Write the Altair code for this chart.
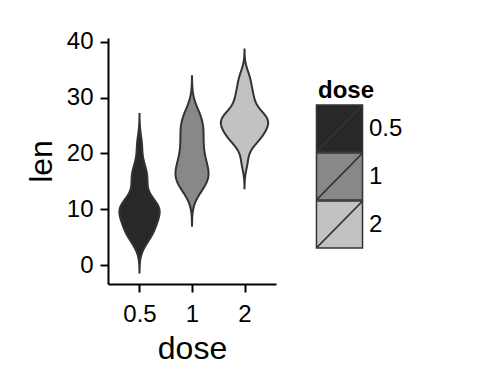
import altair as alt
import numpy as np
import pandas as pd

# ToothGrowth len values by dose
doses = ["0.5", "1", "2"]
len_05 = [4.2, 11.5, 7.3, 5.8, 6.4, 10.0, 11.2, 11.2, 5.2, 7.0,
          15.2, 21.5, 17.6, 9.7, 14.5, 10.0, 8.2, 9.4, 16.5, 9.7]
len_1 = [16.5, 16.5, 15.2, 17.3, 22.5, 17.3, 13.6, 14.5, 18.8, 15.5,
         19.7, 23.3, 23.6, 26.4, 20.0, 25.2, 25.8, 21.2, 14.5, 27.3]
len_2 = [23.6, 18.5, 33.9, 25.5, 26.4, 32.5, 26.7, 21.5, 23.3, 29.5,
         25.5, 26.4, 22.4, 24.5, 24.8, 30.9, 26.4, 27.3, 29.4, 23.0]
fills = ["#282828", "#888888", "#c2c2c2"]
y_ticks = [0, 10, 20, 30, 40]


def nrd0(v):
    v = np.asarray(v, dtype=float)
    q1, q3 = np.percentile(v, [25, 75])
    lo = min(np.std(v, ddof=1), (q3 - q1) / 1.34)
    return 0.9 * lo * len(v) ** -0.2


rows = []
umin, umax = np.inf, -np.inf
for i, (d, vals) in enumerate(zip(doses, [len_05, len_1, len_2])):
    bw = nrd0(vals)
    umin = min(umin, min(vals) / bw - 3.2)
    umax = max(umax, max(vals) / bw + 3.2)
    for v in vals:
        rows.append({"dose": d, "pos": i + 1, "len": v, "bw": bw})
df = pd.DataFrame(rows)

base = alt.Chart(df).transform_joinaggregate(
    lo="min(len)", hi="max(len)", groupby=["dose"]
).transform_calculate(
    u="datum.len / datum.bw"
).transform_density(
    density="u",
    groupby=["dose", "pos", "bw", "lo", "hi"],
    extent=[float(umin), float(umax)],
    steps=800,
    bandwidth=1,
    as_=["u", "d"],
).transform_calculate(
    yv="datum.u * datum.bw",
    dens="datum.d / datum.bw",
).transform_filter(
    "datum.yv >= datum.lo - 3 * datum.bw && datum.yv <= datum.hi + 3 * datum.bw"
).transform_joinaggregate(
    maxd="max(dens)"
).transform_calculate(
    xl="datum.pos - 0.45 * datum.dens / datum.maxd",
    xr="datum.pos + 0.45 * datum.dens / datum.maxd",
)

# legend key: a box with a diagonal stroke
key_path = "M-1.117,-1.135H1.117V1.135H-1.117Z M-1.117,1.135L1.117,-1.135"

chart = base.mark_area(
    orient="horizontal", stroke="#333333", strokeWidth=2
).encode(
    y=alt.Y(
        "yv:Q",
        title="len",
        scale=alt.Scale(domain=[-3.36, 40.66], nice=False, zero=False),
        axis=alt.Axis(values=y_ticks, grid=False, labelPadding=7),
    ),
    x=alt.X(
        "xl:Q",
        title="dose",
        scale=alt.Scale(domain=[0.4, 3.6], nice=False, zero=False),
        axis=alt.Axis(
            values=[1, 2, 3],
            grid=False,
            labelPadding=10,
            labelExpr="datum.value == 1 ? '0.5' : (datum.value == 2 ? '1' : '2')",
        ),
    ),
    x2="xr:Q",
    fill=alt.Fill(
        "dose:N",
        scale=alt.Scale(domain=doses, range=fills),
        legend=alt.Legend(
            title="dose",
            orient="none",
            legendX=210,
            legendY=41,
            symbolType=key_path,
            symbolSize=1700,
            symbolStrokeColor="#333333",
            symbolStrokeWidth=1.5,
            symbolOpacity=1,
            rowPadding=-6,
            labelOffset=8,
            labelFontSize=24,
            labelFont="Liberation Sans",
            labelColor="black",
            titleFontSize=24,
            titleFont="Liberation Sans",
            titleFontWeight="bold",
            titleColor="black",
            titlePadding=4,
        ),
    ),
).properties(
    width=168,
    height=246,
    autosize="none",
    padding={"left": 100, "top": 30, "right": 196, "bottom": 92},
).configure_view(
    stroke=None
).configure_axis(
    domainColor="black",
    domainWidth=2,
    tickColor="black",
    tickWidth=2,
    tickSize=8,
    labelFont="Liberation Sans",
    labelFontSize=24,
    labelColor="black",
    titleFont="Liberation Sans",
    titleFontSize=32,
    titleFontWeight="normal",
    titleColor="black",
).configure_axisY(
    titlePadding=8
).configure_axisX(
    titlePadding=7
)

chart.save("out.html", embed_options={"renderer": "svg", "actions": False})
